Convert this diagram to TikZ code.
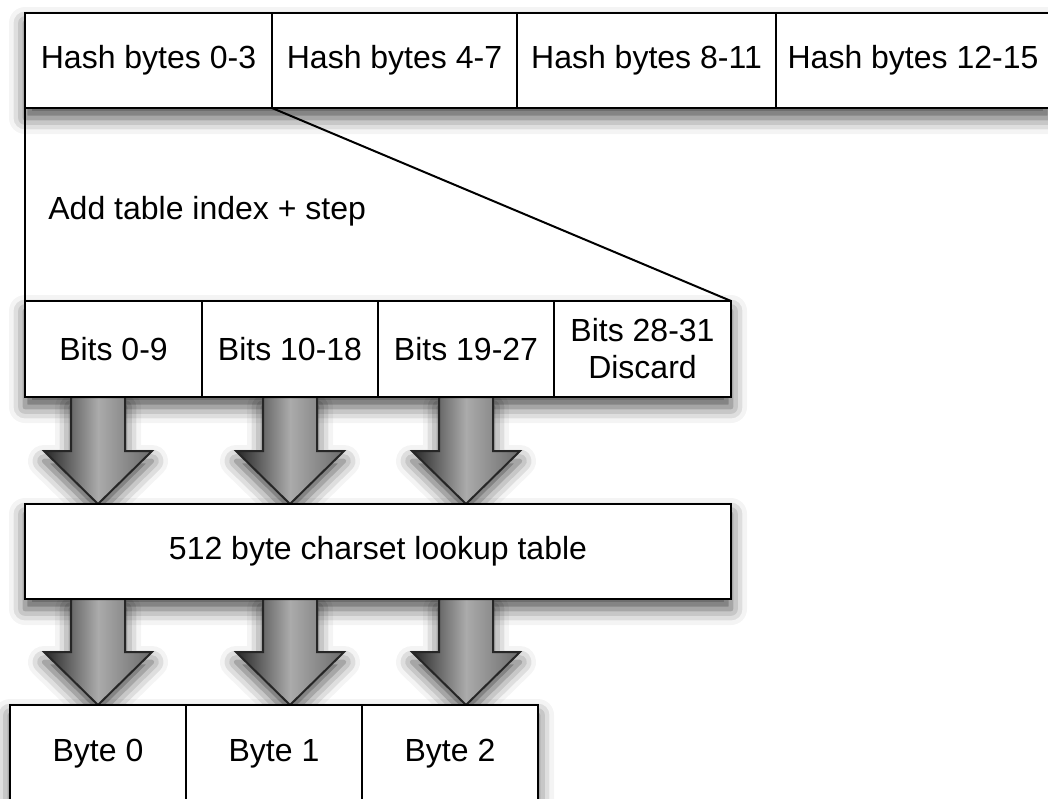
\documentclass[tikz,border=0pt]{standalone}
\usepackage{fontspec}
\setmainfont{Liberation Sans}
\usetikzlibrary{positioning,calc,backgrounds,shadows.blur}

\tikzset{
	cell/.style={draw, line width=1pt, fill=white, inner sep=0pt, outer sep=0pt,
		minimum height=47.5pt, align=center, font=\fontsize{16}{18.5}\selectfont},
	softshadow/.style={blur shadow={shadow blur radius=8pt, shadow xshift=0pt,
		shadow yshift=-5pt, shadow opacity=70}},
	rowshadow/.style={fill=white, softshadow},
	fatarrow/.style={draw=black!85, line width=1pt, left color=black!85,
		right color=black!58, middle color=black!33, softshadow},
}

% fat grey arrow: #1 x position, #2 source node, #3 target node
\newcommand{\fatarrow}[3]{%
	\shadedraw[fatarrow] ($(#2.south -| #1)+(-27,0)$) -- ($(#3.north -| #1)+(-27,-53)$)
		-- ($(#3.north -| #1)+(-54,-53)$) -- (#3.north -| #1)
		-- ($(#3.north -| #1)+(54,-53)$) -- ($(#3.north -| #1)+(27,-53)$)
		-- ($(#2.south -| #1)+(27,0)$) -- cycle;}

\begin{document}
\begin{tikzpicture}[x=0.5pt,y=-0.5pt]
			\useasboundingbox (0,0) rectangle (1048,798);

			% hash bytes
			\node[cell, anchor=north west, minimum width=123.5pt] (h0) at (25,13) {Hash bytes 0-3};
			\node[cell, minimum width=122.5pt, right=0pt of h0] (h1) {Hash bytes 4-7};
			\node[cell, minimum width=129.5pt, right=0pt of h1] (h2) {Hash bytes 8-11};
			\node[cell, minimum width=137pt, right=0pt of h2] (h3) {Hash bytes 12-15};

			\node[anchor=west, inner sep=0pt, font=\fontsize{16}{18.5}\selectfont] (step) at (48,211) {Add table index + step};

			% bits
			\node[cell, anchor=north west, minimum width=88.5pt, minimum height=48pt] (b0) at (25,301) {Bits 0-9};
			\node[cell, minimum width=88pt, minimum height=48pt, right=0pt of b0] (b1) {Bits 10-18};
			\node[cell, minimum width=88pt, minimum height=48pt, right=0pt of b1] (b2) {Bits 19-27};
			\node[cell, minimum width=88.5pt, minimum height=48pt, right=0pt of b2] (b3) {Bits 28-31\\Discard};

			\draw[line width=1pt] (h0.south west) -- (b0.north west);
			\draw[line width=1pt] (h0.south east) -- (b3.north east);

			% lookup table
			\node[cell, anchor=north west, minimum width=353pt] (lut) at (25,504) {512 byte charset lookup table};

			% output bytes
			\node[cell, anchor=north west, minimum width=88pt, minimum height=49pt] (y0) at (10,705) {Byte 0};
			\node[cell, minimum width=88pt, minimum height=49pt, right=0pt of y0] (y1) {Byte 1};
			\node[cell, minimum width=88pt, minimum height=49pt, right=0pt of y1] (y2) {Byte 2};

			\coordinate (ax0) at (98,0);
			\coordinate (ax1) at (290,0);
			\coordinate (ax2) at (466,0);

			\begin{scope}[on background layer]
				\path[rowshadow] (h0.north west) rectangle (h3.south east);
				\path[rowshadow] (b0.north west) rectangle (b3.south east);
				\path[rowshadow] (lut.north west) rectangle (lut.south east);
				\path[rowshadow] (y0.north west) rectangle (y2.south east);
				\fatarrow{ax0}{b0}{lut}
				\fatarrow{ax1}{b1}{lut}
				\fatarrow{ax2}{b2}{lut}
				\fatarrow{ax0}{lut}{y0}
				\fatarrow{ax1}{lut}{y1}
				\fatarrow{ax2}{lut}{y2}
			\end{scope}
\end{tikzpicture}
\end{document}
